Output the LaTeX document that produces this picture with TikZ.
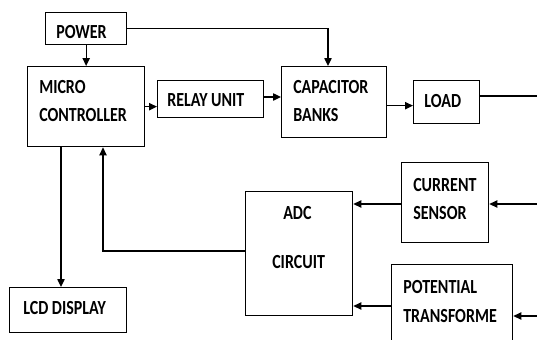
\documentclass[tikz,border=0pt]{standalone}
\usepackage{fontspec}
\usepackage{graphicx}
\setmainfont{Carlito}
\usetikzlibrary{arrows.meta,calc}
\newcommand{\narrowtext}[1]{\scalebox{0.8}[1]{#1}}
\begin{document}
\begin{tikzpicture}[x=0.75pt,y=-0.75pt,
  box/.style={draw,line width=1pt,anchor=north west,inner sep=0pt},
  txt/.style={anchor=west,inner sep=0pt,font=\fontsize{15}{17}\selectfont\bfseries},
  conn/.style={line width=1pt},
  arr/.style={line width=1pt,-{Triangle[length=6pt,width=5.5pt]}}]
\useasboundingbox (0,0) rectangle (537,340);
\clip (0,0) rectangle (537,340);
% boxes
\node[box,minimum width=81*0.75pt,minimum height=32*0.75pt] (power) at (45,12) {};
\node[box,minimum width=117*0.75pt,minimum height=80*0.75pt] (micro) at (27,66) {};
\node[box,minimum width=106*0.75pt,minimum height=37*0.75pt] (relay) at (157,80) {};
\node[box,minimum width=105*0.75pt,minimum height=71*0.75pt] (cap) at (281,66) {};
\node[box,minimum width=66*0.75pt,minimum height=43*0.75pt] (load) at (413,80) {};
\node[box,minimum width=117*0.75pt,minimum height=45*0.75pt] (lcd) at (9,287) {};
\node[box,minimum width=107*0.75pt,minimum height=124*0.75pt] (adc) at (245,191) {};
\node[box,minimum width=87*0.75pt,minimum height=80*0.75pt] (cs) at (401,162) {};
\node[box,minimum width=121*0.75pt,minimum height=90*0.75pt] (pt) at (391,264) {};
% texts
\node[txt] (tpower) at (56,32) {\narrowtext{POWER}};
\node[txt] (tmicro1) at (39,87) {\narrowtext{MICRO}};
\node[txt] (tmicro2) at (39,115) {\narrowtext{CONTROLLER}};
\node[txt] (trelay) at (167,100) {\narrowtext{RELAY UNIT}};
\node[txt] (tcap1) at (293,87) {\narrowtext{CAPACITOR}};
\node[txt] (tcap2) at (293,115) {\narrowtext{BANKS}};
\node[txt] (tload) at (424,101) {\narrowtext{LOAD}};
\node[txt] (tlcd) at (23,308) {\narrowtext{LCD DISPLAY}};
\node[txt] (tcs1) at (413,185) {\narrowtext{CURRENT}};
\node[txt] (tcs2) at (413,213) {\narrowtext{SENSOR}};
\node[txt] (tadc1) at (283,213) {\narrowtext{ADC}};
\node[txt] (tadc2) at (272,262) {\narrowtext{CIRCUIT}};
\node[txt] (tpt1) at (403,287) {\narrowtext{POTENTIAL}};
\node[txt] (tpt2) at (403,316) {\narrowtext{TRANSFORME}};
% coordinates
\coordinate (pwrx) at (328,28);
\coordinate (loadout) at (537,96);
\coordinate (lcdx) at (61,0);
\coordinate (fbx) at (103,251);
\coordinate (csin) at (537,204);
\coordinate (ptin) at (537,316);
\coordinate (ptout) at (391,306);
% connectors
\draw[arr] (power.south) -- (micro.north -| power.south);
\draw[arr] (power.east) -- (power.east -| pwrx) -- (cap.north -| pwrx);
\draw[arr] (micro.east) -- (relay.west |- micro.east);
\draw[arr] (relay.east |- 0,97) -- (cap.west |- 0,97);
\draw[arr] ($(cap.east)+(0,3.5)$) -- ($(load.west)+(0,3.5)$);
\draw[conn] (load.east |- loadout) -- (loadout);
\draw[arr] (micro.south -| lcdx) -- (lcd.north -| lcdx);
\draw[arr] (adc.west |- fbx) -- (fbx) -- (micro.south -| fbx);
\draw[arr] (cs.west |- csin) -- (adc.east |- csin);
\draw[arr] (csin) -- (cs.east |- csin);
\draw[arr] (ptout) -- (adc.east |- ptout);
\draw[arr] (ptin) -- (pt.east |- ptin);
\end{tikzpicture}
\end{document}
